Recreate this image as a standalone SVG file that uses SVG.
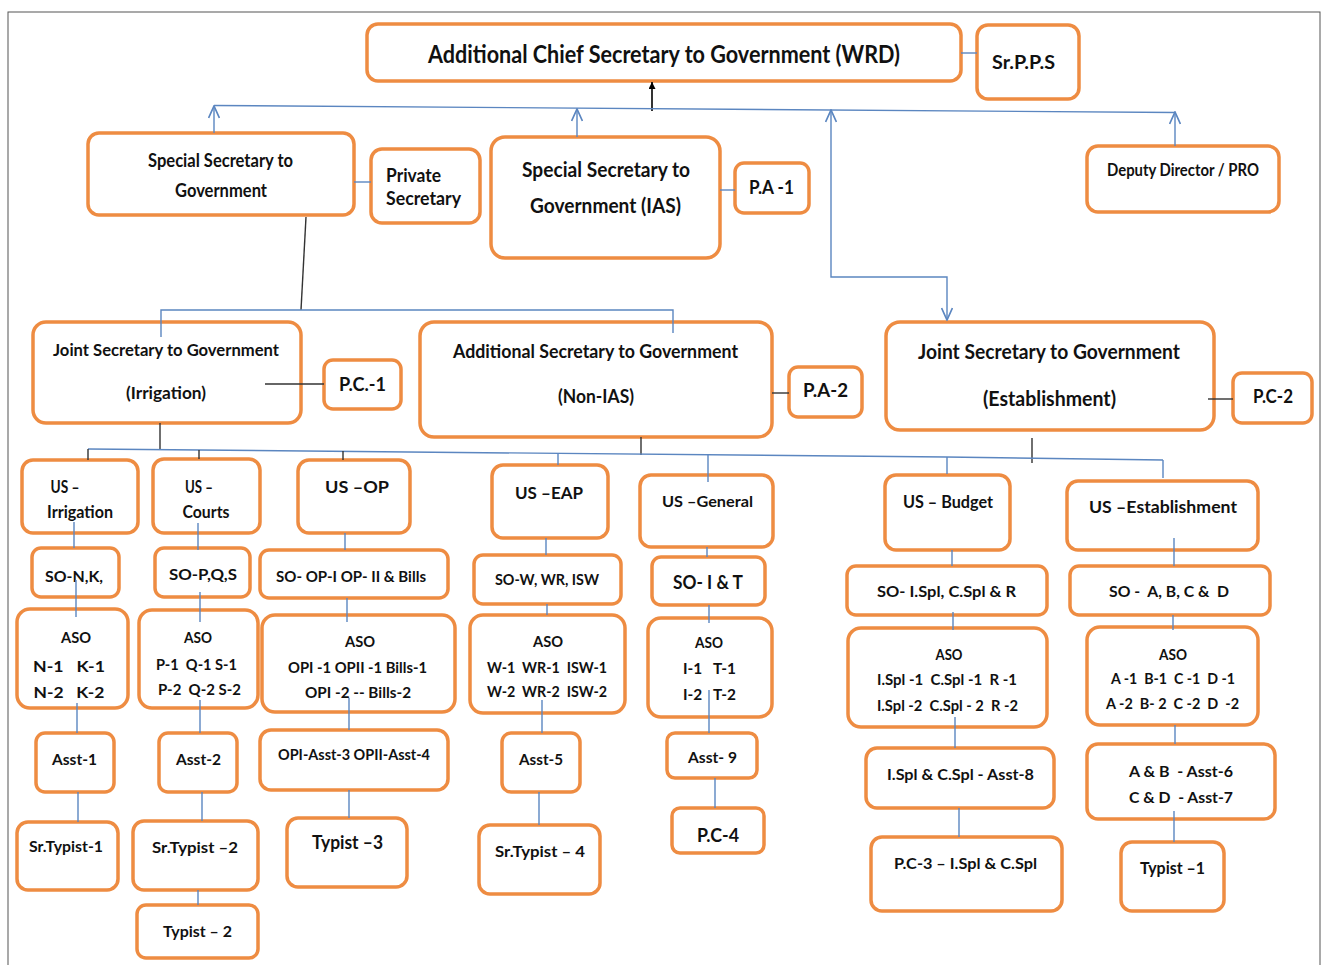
<svg xmlns="http://www.w3.org/2000/svg" width="1322" height="965" viewBox="0 0 1322 965" xml:space="preserve">
<style>
.box{fill:#fff;stroke:#EE8C42;stroke-width:3.5}
.t{font-family:Lato,"Liberation Sans",sans-serif;font-weight:700;fill:#111;text-anchor:middle;white-space:pre}
.l{text-anchor:start}
.c{stroke:#5B86C0;stroke-width:1.4;fill:none}
.d{stroke:#333;stroke-width:1.4;fill:none}
.ar{marker-end:url(#open)}
</style>
<defs>
<marker id="open" viewBox="0 0 10 10" refX="10" refY="5" markerWidth="14" markerHeight="12" markerUnits="userSpaceOnUse" orient="auto-start-reverse"><path d="M0,0.5 L10,5 L0,9.5" fill="none" stroke="#5B86C0" stroke-width="1.4"/></marker>
<marker id="solid" viewBox="0 0 10 10" refX="10" refY="5" markerWidth="9" markerHeight="7" markerUnits="userSpaceOnUse" orient="auto"><path d="M0,0 L10,5 L0,10 Z" fill="#000"/></marker>
</defs>
<rect x="0" y="0" width="1322" height="965" fill="#fff"/>
<rect x="8" y="12" width="1312" height="962" fill="none" stroke="#555" stroke-width="1"/>

<g id="n-acs"><rect class="box" x="367" y="24" width="594" height="57" rx="11"/><text class="t" x="664" y="63" font-size="24.5" textLength="472" lengthAdjust="spacingAndGlyphs">Additional Chief Secretary to Government (WRD)</text></g>
<g id="n-srpps"><rect class="box" x="977" y="25" width="102" height="74" rx="11"/><text class="t" x="1023.5" y="69" font-size="18" textLength="63" lengthAdjust="spacingAndGlyphs">Sr.P.P.S</text></g>
<g id="n-ssg"><rect class="box" x="88" y="133" width="266" height="82" rx="11"/><text class="t" x="220.5" y="167" font-size="18" textLength="145" lengthAdjust="spacingAndGlyphs">Special Secretary to</text><text class="t" x="221" y="197" font-size="18" textLength="92" lengthAdjust="spacingAndGlyphs">Government</text></g>
<g id="n-ps"><rect class="box" x="371" y="149" width="109" height="74" rx="11"/><text class="t l" x="386" y="182" font-size="18.5" textLength="55" lengthAdjust="spacingAndGlyphs">Private</text><text class="t l" x="386" y="205" font-size="18.5" textLength="75" lengthAdjust="spacingAndGlyphs">Secretary</text></g>
<g id="n-ssias"><rect class="box" x="491" y="137" width="229" height="121" rx="14"/><text class="t" x="606" y="177" font-size="20" textLength="168" lengthAdjust="spacingAndGlyphs">Special Secretary to</text><text class="t" x="605.5" y="213" font-size="20" textLength="151" lengthAdjust="spacingAndGlyphs">Government (IAS)</text></g>
<g id="n-pa1"><rect class="box" x="735" y="163" width="74" height="50" rx="9"/><text class="t" x="771.5" y="194" font-size="19" textLength="45" lengthAdjust="spacingAndGlyphs">P.A -1</text></g>
<g id="n-ddpro"><rect class="box" x="1087" y="146" width="192" height="66" rx="11"/><text class="t" x="1183" y="176" font-size="16.5" textLength="152" lengthAdjust="spacingAndGlyphs">Deputy Director / PRO</text></g>

<g id="n-jsirr"><rect class="box" x="33" y="322" width="268" height="101" rx="13"/><text class="t" x="166" y="356" font-size="17.5" textLength="226" lengthAdjust="spacingAndGlyphs">Joint Secretary to Government</text><text class="t" x="166" y="399" font-size="17.5" textLength="80" lengthAdjust="spacingAndGlyphs">(Irrigation)</text></g>
<g id="n-pc1"><rect class="box" x="324" y="360" width="77" height="49" rx="9"/><text class="t" x="362.5" y="391" font-size="19" textLength="47" lengthAdjust="spacingAndGlyphs">P.C.-1</text></g>
<g id="n-addsec"><rect class="box" x="420" y="322" width="352" height="115" rx="14"/><text class="t" x="595.5" y="358" font-size="18.5" textLength="285" lengthAdjust="spacingAndGlyphs">Additional Secretary to Government</text><text class="t" x="596" y="403" font-size="18.5" textLength="76" lengthAdjust="spacingAndGlyphs">(Non-IAS)</text></g>
<g id="n-pa2"><rect class="box" x="789" y="367" width="73" height="50" rx="9"/><text class="t" x="825.5" y="397" font-size="19" textLength="45" lengthAdjust="spacingAndGlyphs">P.A-2</text></g>
<g id="n-jsest"><rect class="box" x="886" y="322" width="328" height="108" rx="14"/><text class="t" x="1049" y="359" font-size="20" textLength="262" lengthAdjust="spacingAndGlyphs">Joint Secretary to Government</text><text class="t" x="1049.5" y="406" font-size="20" textLength="133" lengthAdjust="spacingAndGlyphs">(Establishment)</text></g>
<g id="n-pc2"><rect class="box" x="1233" y="373" width="79" height="50" rx="9"/><text class="t" x="1273" y="403" font-size="19" textLength="40" lengthAdjust="spacingAndGlyphs">P.C-2</text></g>

<g id="n-usirr"><rect class="box" x="22" y="460" width="116" height="73" rx="11"/><text class="t" x="65" y="493" font-size="16.5" textLength="29" lengthAdjust="spacingAndGlyphs">US –</text><text class="t" x="80" y="518" font-size="16.5" textLength="66" lengthAdjust="spacingAndGlyphs">Irrigation</text></g>
<g id="n-sonk"><rect class="box" x="32" y="548" width="87" height="49" rx="9"/><text class="t" x="74" y="582" font-size="15.5" textLength="58" lengthAdjust="spacingAndGlyphs">SO-N,K,</text></g>
<g id="n-aso1"><rect class="box" x="17" y="609" width="111" height="99" rx="13"/><text class="t" x="76" y="643" font-size="16" textLength="30" lengthAdjust="spacingAndGlyphs">ASO</text><text class="t" x="69" y="672" font-size="16" textLength="72" lengthAdjust="spacingAndGlyphs">N-1   K-1</text><text class="t" x="69" y="698" font-size="16" textLength="71" lengthAdjust="spacingAndGlyphs">N-2   K-2</text></g>
<g id="n-asst1"><rect class="box" x="36" y="733" width="78" height="59" rx="9"/><text class="t" x="74.5" y="765" font-size="16" textLength="45" lengthAdjust="spacingAndGlyphs">Asst-1</text></g>
<g id="n-srt1"><rect class="box" x="17" y="822" width="101" height="68" rx="11"/><text class="t" x="66" y="852" font-size="15" textLength="74" lengthAdjust="spacingAndGlyphs">Sr.Typist-1</text></g>

<g id="n-uscourts"><rect class="box" x="153" y="459" width="107" height="74" rx="11"/><text class="t" x="199" y="493" font-size="16.5" textLength="28" lengthAdjust="spacingAndGlyphs">US –</text><text class="t" x="206" y="518" font-size="16.5" textLength="47" lengthAdjust="spacingAndGlyphs">Courts</text></g>
<g id="n-sopqs"><rect class="box" x="155" y="548" width="95" height="49" rx="9"/><text class="t" x="203" y="580" font-size="15" textLength="68" lengthAdjust="spacingAndGlyphs">SO-P,Q,S</text></g>
<g id="n-aso2"><rect class="box" x="139" y="610" width="119" height="98" rx="13"/><text class="t" x="198" y="643" font-size="16" textLength="28" lengthAdjust="spacingAndGlyphs">ASO</text><text class="t" x="196.5" y="670" font-size="16" textLength="81" lengthAdjust="spacingAndGlyphs">P-1  Q-1 S-1</text><text class="t" x="199.5" y="695" font-size="16" textLength="83" lengthAdjust="spacingAndGlyphs">P-2  Q-2 S-2</text></g>
<g id="n-asst2"><rect class="box" x="159" y="733" width="78" height="59" rx="9"/><text class="t" x="198.5" y="765" font-size="16" textLength="45" lengthAdjust="spacingAndGlyphs">Asst-2</text></g>
<g id="n-srt2"><rect class="box" x="133" y="821" width="125" height="69" rx="11"/><text class="t" x="195" y="853" font-size="16" textLength="86" lengthAdjust="spacingAndGlyphs">Sr.Typist –2</text></g>
<g id="n-typ2"><rect class="box" x="137" y="905" width="121" height="53" rx="9"/><text class="t" x="197.5" y="937" font-size="16" textLength="69" lengthAdjust="spacingAndGlyphs">Typist – 2</text></g>

<g id="n-usop"><rect class="box" x="298" y="460" width="112" height="73" rx="11"/><text class="t" x="357" y="493" font-size="17" textLength="64" lengthAdjust="spacingAndGlyphs">US –OP</text></g>
<g id="n-soop"><rect class="box" x="260" y="550" width="188" height="48" rx="9"/><text class="t" x="351" y="582" font-size="15.5" textLength="150" lengthAdjust="spacingAndGlyphs">SO- OP-I OP- II &amp; Bills</text></g>
<g id="n-aso3"><rect class="box" x="262" y="615" width="193" height="97" rx="13"/><text class="t" x="360" y="647" font-size="16" textLength="30" lengthAdjust="spacingAndGlyphs">ASO</text><text class="t" x="357.5" y="673" font-size="16" textLength="139" lengthAdjust="spacingAndGlyphs">OPI -1 OPII -1 Bills-1</text><text class="t" x="358" y="698" font-size="16" textLength="106" lengthAdjust="spacingAndGlyphs">OPI -2 -- Bills-2</text></g>
<g id="n-opiasst"><rect class="box" x="260" y="730" width="188" height="60" rx="11"/><text class="t" x="354" y="760" font-size="15" textLength="152" lengthAdjust="spacingAndGlyphs">OPI-Asst-3 OPII-Asst-4</text></g>
<g id="n-typ3"><rect class="box" x="287" y="818" width="120" height="69" rx="11"/><text class="t" x="347.5" y="849" font-size="19" textLength="71" lengthAdjust="spacingAndGlyphs">Typist –3</text></g>

<g id="n-useap"><rect class="box" x="492" y="465" width="116" height="73" rx="11"/><text class="t" x="549" y="499" font-size="17" textLength="68" lengthAdjust="spacingAndGlyphs">US –EAP</text></g>
<g id="n-sow"><rect class="box" x="474" y="555" width="147" height="49" rx="9"/><text class="t" x="547" y="585" font-size="15.5" textLength="104" lengthAdjust="spacingAndGlyphs">SO-W, WR, ISW</text></g>
<g id="n-aso4"><rect class="box" x="470" y="615" width="155" height="98" rx="13"/><text class="t" x="548" y="647" font-size="16" textLength="30" lengthAdjust="spacingAndGlyphs">ASO</text><text class="t" x="547" y="673" font-size="16" textLength="120" lengthAdjust="spacingAndGlyphs">W-1  WR-1  ISW-1</text><text class="t" x="547" y="697" font-size="16" textLength="120" lengthAdjust="spacingAndGlyphs">W-2  WR-2  ISW-2</text></g>
<g id="n-asst5"><rect class="box" x="502" y="733" width="78" height="59" rx="9"/><text class="t" x="541" y="765" font-size="16" textLength="44" lengthAdjust="spacingAndGlyphs">Asst-5</text></g>
<g id="n-srt4"><rect class="box" x="479" y="825" width="121" height="69" rx="11"/><text class="t" x="540" y="857" font-size="16" textLength="90" lengthAdjust="spacingAndGlyphs">Sr.Typist – 4</text></g>

<g id="n-usgen"><rect class="box" x="640" y="475" width="133" height="72" rx="11"/><text class="t" x="707.5" y="507" font-size="16" textLength="91" lengthAdjust="spacingAndGlyphs">US –General</text></g>
<g id="n-soit"><rect class="box" x="652" y="557" width="113" height="48" rx="9"/><text class="t" x="708" y="589" font-size="18.5" textLength="70" lengthAdjust="spacingAndGlyphs">SO- I &amp; T</text></g>
<g id="n-aso5"><rect class="box" x="648" y="618" width="124" height="99" rx="13"/><text class="t" x="709" y="648" font-size="16" textLength="28" lengthAdjust="spacingAndGlyphs">ASO</text><text class="t" x="709.5" y="674" font-size="16" textLength="53" lengthAdjust="spacingAndGlyphs">I-1   T-1</text><text class="t" x="709.5" y="700" font-size="16" textLength="53" lengthAdjust="spacingAndGlyphs">I-2   T-2</text></g>
<g id="n-asst9"><rect class="box" x="667" y="733" width="90" height="45" rx="8"/><text class="t" x="712.5" y="763" font-size="16" textLength="49" lengthAdjust="spacingAndGlyphs">Asst- 9</text></g>
<g id="n-pc4"><rect class="box" x="672" y="808" width="92" height="45" rx="8"/><text class="t" x="718" y="842" font-size="18.5" textLength="42" lengthAdjust="spacingAndGlyphs">P.C-4</text></g>

<g id="n-usbud"><rect class="box" x="885" y="475" width="125" height="75" rx="11"/><text class="t" x="948" y="508" font-size="16.5" textLength="90" lengthAdjust="spacingAndGlyphs">US – Budget</text></g>
<g id="n-soispl"><rect class="box" x="847" y="566" width="200" height="49" rx="9"/><text class="t" x="946.5" y="597" font-size="16" textLength="139" lengthAdjust="spacingAndGlyphs">SO- I.Spl, C.Spl &amp; R</text></g>
<g id="n-aso6"><rect class="box" x="848" y="628" width="199" height="99" rx="13"/><text class="t" x="949" y="660" font-size="15.5" textLength="27" lengthAdjust="spacingAndGlyphs">ASO</text><text class="t" x="947" y="685" font-size="15.5" textLength="140" lengthAdjust="spacingAndGlyphs">I.Spl -1  C.Spl -1  R -1</text><text class="t" x="947.5" y="711" font-size="15.5" textLength="141" lengthAdjust="spacingAndGlyphs">I.Spl -2  C.Spl - 2  R -2</text></g>
<g id="n-asst8"><rect class="box" x="866" y="748" width="188" height="60" rx="11"/><text class="t" x="960.5" y="780" font-size="16" textLength="147" lengthAdjust="spacingAndGlyphs">I.Spl &amp; C.Spl - Asst-8</text></g>
<g id="n-pc3"><rect class="box" x="871" y="837" width="191" height="74" rx="11"/><text class="t" x="965.5" y="869" font-size="16" textLength="143" lengthAdjust="spacingAndGlyphs">P.C-3 – I.Spl &amp; C.Spl</text></g>

<g id="n-usest"><rect class="box" x="1067" y="481" width="191" height="69" rx="11"/><text class="t" x="1163" y="513" font-size="17" textLength="148" lengthAdjust="spacingAndGlyphs">US –Establishment</text></g>
<g id="n-soabcd"><rect class="box" x="1070" y="566" width="200" height="49" rx="9"/><text class="t" x="1169" y="597" font-size="16" textLength="120" lengthAdjust="spacingAndGlyphs">SO -  A, B, C &amp;  D</text></g>
<g id="n-aso7"><rect class="box" x="1087" y="627" width="171" height="98" rx="13"/><text class="t" x="1173" y="660" font-size="15.5" textLength="28" lengthAdjust="spacingAndGlyphs">ASO</text><text class="t" x="1173" y="684" font-size="15.5" textLength="124" lengthAdjust="spacingAndGlyphs">A -1  B-1  C -1  D -1</text><text class="t" x="1172.5" y="709" font-size="15.5" textLength="133" lengthAdjust="spacingAndGlyphs">A -2  B- 2  C -2  D  -2</text></g>
<g id="n-asst67"><rect class="box" x="1087" y="744" width="188" height="75" rx="11"/><text class="t" x="1181" y="777" font-size="16" textLength="104" lengthAdjust="spacingAndGlyphs">A &amp; B  - Asst-6</text><text class="t" x="1181" y="803" font-size="16" textLength="104" lengthAdjust="spacingAndGlyphs">C &amp; D  - Asst-7</text></g>
<g id="n-typ1"><rect class="box" x="1121" y="842" width="103" height="69" rx="11"/><text class="t" x="1172.5" y="874" font-size="17" textLength="65" lengthAdjust="spacingAndGlyphs">Typist –1</text></g>

<g id="connectors">
<line x1="652" y1="111" x2="652" y2="82" stroke="#000" stroke-width="1.6" marker-end="url(#solid)"/>
<line class="c" x1="214" y1="105.5" x2="1175" y2="112.5"/>
<line class="c ar" x1="214" y1="133" x2="214" y2="106"/>
<line class="c ar" x1="577" y1="137" x2="577" y2="109"/>
<line class="c ar" x1="1175" y1="146" x2="1175" y2="112"/>
<path class="c" d="M831,110 L831,277 L947,277 L947,320" marker-start="url(#open)" marker-end="url(#open)"/>
<line class="c" x1="961" y1="53" x2="977" y2="53"/>
<line class="c" x1="354" y1="182" x2="371" y2="182"/>
<line class="c" x1="720" y1="190" x2="735" y2="190"/>
<line class="d" x1="306" y1="217" x2="301" y2="310"/>
<path class="c" d="M161,337 L161,310 L673,310 L673,333"/>
<line class="d" x1="265" y1="384" x2="324" y2="384"/>
<line class="d" x1="772" y1="393" x2="789" y2="393"/>
<line class="d" x1="1208" y1="399" x2="1233" y2="399"/>
<line class="d" x1="160" y1="423" x2="160" y2="449"/>
<line class="d" x1="641" y1="437" x2="641" y2="455"/>
<line class="d" x1="1032" y1="438" x2="1032" y2="463"/>
<polyline class="c" points="88,449 946,457 1163,460"/>
<line class="d" x1="88" y1="449" x2="88" y2="460"/>
<line class="d" x1="199" y1="450" x2="199" y2="459"/>
<line class="d" x1="343" y1="451" x2="343" y2="460"/>
<line class="c" x1="558" y1="454" x2="558" y2="465"/>
<line class="c" x1="708" y1="455" x2="708" y2="482"/>
<line class="c" x1="947" y1="457" x2="947" y2="474"/>
<line class="c" x1="1163" y1="460" x2="1163" y2="478"/>
<line class="c" x1="74" y1="522" x2="74" y2="548"/>
<line class="c" x1="76" y1="580" x2="76" y2="617"/>
<line class="c" x1="77" y1="703" x2="77" y2="733"/>
<line class="c" x1="78" y1="792" x2="78" y2="822"/>
<line class="c" x1="198" y1="523" x2="198" y2="550"/>
<line class="c" x1="200" y1="592" x2="200" y2="622"/>
<line class="c" x1="200" y1="700" x2="200" y2="733"/>
<line class="c" x1="202" y1="792" x2="202" y2="821"/>
<line class="c" x1="198" y1="890" x2="198" y2="905"/>
<line class="c" x1="345" y1="533" x2="345" y2="550"/>
<line class="c" x1="347" y1="598" x2="347" y2="622"/>
<line class="c" x1="349" y1="698" x2="349" y2="730"/>
<line class="c" x1="349" y1="790" x2="349" y2="818"/>
<line class="c" x1="546" y1="538" x2="546" y2="555"/>
<line class="c" x1="547" y1="604" x2="547" y2="615"/>
<line class="c" x1="542" y1="700" x2="542" y2="733"/>
<line class="c" x1="539" y1="792" x2="539" y2="825"/>
<line class="c" x1="707" y1="547" x2="707" y2="557"/>
<line class="c" x1="709" y1="605" x2="709" y2="623"/>
<line class="c" x1="709" y1="690" x2="709" y2="733"/>
<line class="c" x1="715" y1="778" x2="715" y2="808"/>
<line class="c" x1="952" y1="550" x2="952" y2="566"/>
<line class="c" x1="953" y1="612" x2="953" y2="630"/>
<line class="c" x1="955" y1="717" x2="955" y2="748"/>
<line class="c" x1="959" y1="808" x2="959" y2="837"/>
<line class="c" x1="1174" y1="538" x2="1174" y2="566"/>
<line class="c" x1="1173" y1="615" x2="1173" y2="630"/>
<line class="c" x1="1175" y1="725" x2="1175" y2="744"/>
<line class="c" x1="1174" y1="811" x2="1174" y2="842"/>
</g>
</svg>
